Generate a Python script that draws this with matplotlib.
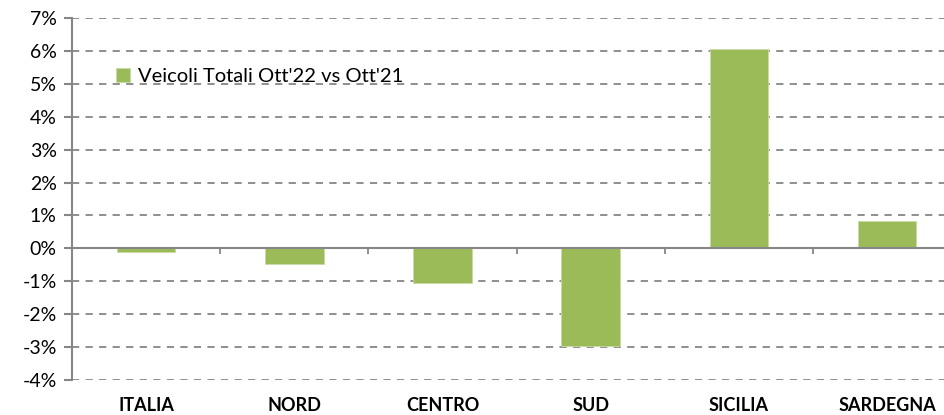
import numpy as np
import matplotlib.pyplot as plt
from matplotlib.ticker import FuncFormatter, MultipleLocator

# dati
regioni = ['ITALIA', 'NORD', 'CENTRO', 'SUD', 'SICILIA', 'SARDEGNA']
variazione = [-0.1, -0.47, -1.05, -2.97, 6.06, 0.84]  # %
serie = "Veicoli Totali Ott'22 vs Ott'21"

verde = '#9BBB59'
grigio = '#868686'

plt.rcParams['font.family'] = ['Lato', 'DejaVu Sans']

fig = plt.figure(figsize=(9.44, 4.15), dpi=100)
# l'area del grafico continua oltre il bordo destro dell'immagine
ax = fig.add_axes([0.0763, 0.0843, 0.942, 0.8723])

x = np.arange(len(regioni))
ax.bar(x, variazione, width=0.395, color=verde, edgecolor='#C9DBA6', linewidth=0.6,
       label=serie, zorder=3)

ax.set_xlim(-0.5, len(regioni) - 0.5)
ax.set_ylim(-4, 7)
ax.yaxis.set_major_locator(MultipleLocator(1))
ax.yaxis.set_major_formatter(FuncFormatter(lambda v, p: f'{v:.0f}%'))

# griglia tratteggiata
for v in ax.get_yticks():
    if v != 0:
        ax.axhline(v, color=grigio, linestyle=(0, (4, 3.5)), linewidth=1.3, zorder=1)
ax.axhline(0, color=grigio, linewidth=1.5, zorder=4)

# tacche sull'asse dello zero tra le categorie
confini = x[:-1] + 0.5
ax.vlines(confini, -0.17, 0, color=grigio, linewidth=1.3, zorder=4)

for s in ['top', 'right', 'bottom']:
    ax.spines[s].set_visible(False)
ax.spines['left'].set_color(grigio)
ax.spines['left'].set_linewidth(1.5)

ax.tick_params(axis='y', colors=grigio, length=6, width=1.5, labelsize=14,
               labelcolor='black', pad=5)
ax.set_xticks(x)
ax.set_xticklabels(regioni, fontweight='bold', fontsize=13)
ax.tick_params(axis='x', length=0, pad=12)

leg = ax.legend(loc='center left', bbox_to_anchor=(0.05, 0.838), frameon=False,
                fontsize=14.5, handlelength=0.65, handleheight=0.65, handletextpad=0.4,
                borderaxespad=0, borderpad=0)

fig.savefig('out.png', dpi=100)
